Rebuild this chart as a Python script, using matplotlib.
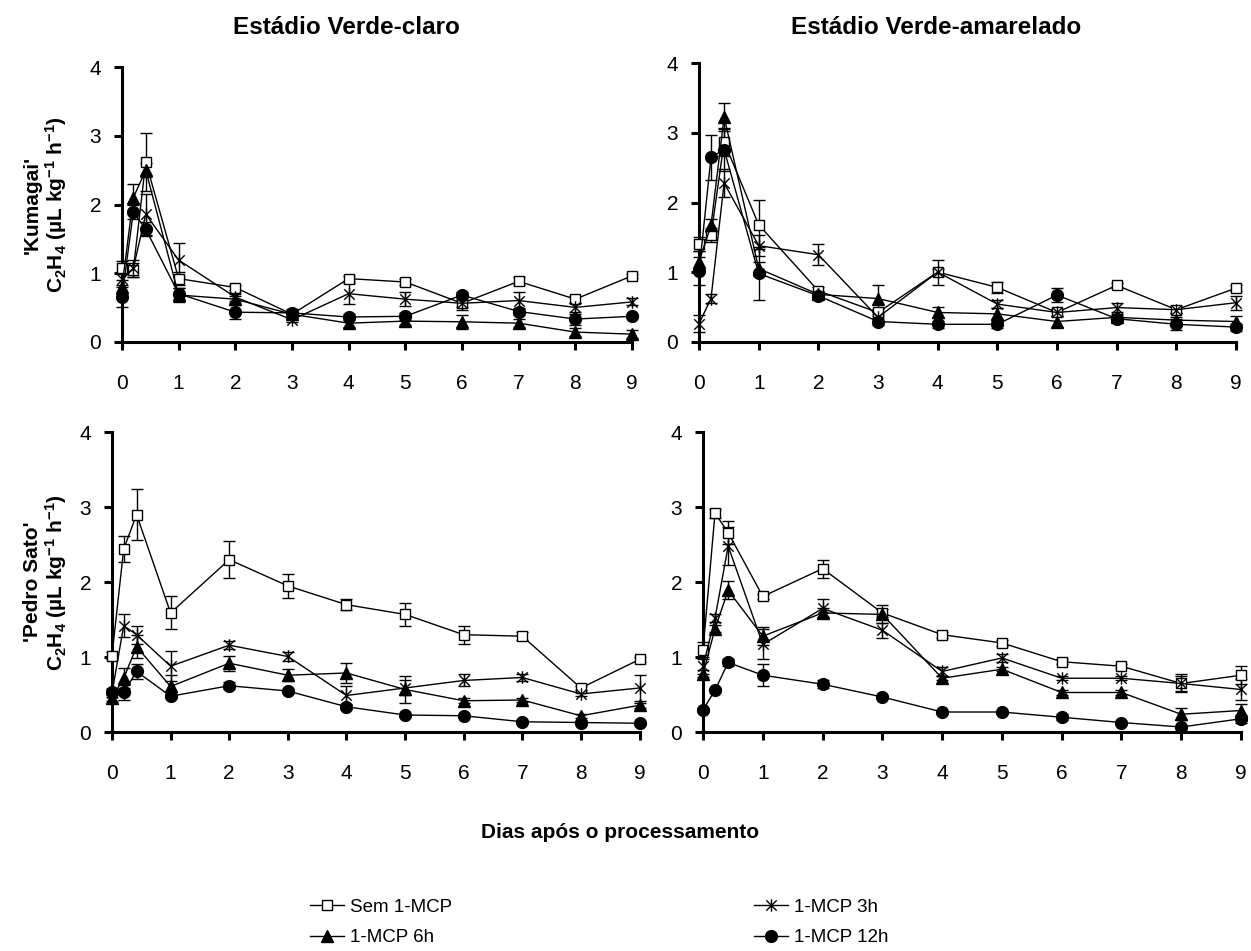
import matplotlib
matplotlib.use("Agg")
import matplotlib.pyplot as plt
from matplotlib.path import Path
from matplotlib.lines import Line2D

plt.rcParams['font.family'] = ['Liberation Sans', 'DejaVu Sans']
plt.rcParams['mathtext.default'] = 'regular'

days = [0, 0.2, 0.42, 1, 2, 3, 4, 5, 6, 7, 8, 9]
x_ticks = [0, 1, 2, 3, 4, 5, 6, 7, 8, 9]
y_ticks = [0, 1, 2, 3, 4]
series_labels = ["Sem 1-MCP", "1-MCP 3h", "1-MCP 6h", "1-MCP 12h"]
col_titles = ["Estádio Verde-claro", "Estádio Verde-amarelado"]
row_labels = ["'Kumagai'", "'Pedro Sato'"]
x_label = "Dias após o processamento"

# Kumagai - Verde-claro
kc_sem = [1.08, 1.05, 2.62, 0.92, 0.79, 0.40, 0.92, 0.87, 0.56, 0.88, 0.62, 0.96]
kc_sem_err = [0.10, 0.10, 0.42, 0.10, 0.04, 0.05, 0.04, 0.04, 0.05, 0.06, 0.05, 0.03]
kc_3h = [0.92, 1.07, 1.86, 1.19, 0.65, 0.32, 0.70, 0.62, 0.56, 0.60, 0.50, 0.58]
kc_3h_err = [0.10, 0.12, 0.30, 0.25, 0.05, 0.04, 0.15, 0.10, 0.10, 0.12, 0.06, 0.05]
kc_6h = [0.80, 2.10, 2.50, 0.68, 0.62, 0.40, 0.27, 0.30, 0.29, 0.27, 0.14, 0.11]
kc_6h_err = [0.10, 0.20, 0.10, 0.10, 0.05, 0.05, 0.06, 0.05, 0.10, 0.06, 0.06, 0.06]
kc_12h = [0.65, 1.89, 1.64, 0.70, 0.43, 0.42, 0.36, 0.37, 0.68, 0.44, 0.33, 0.37]
kc_12h_err = [0.15, 0.10, 0.10, 0.08, 0.10, 0.05, 0.05, 0.05, 0.05, 0.05, 0.08, 0.03]

# Kumagai - Verde-amarelado
ka_sem = [1.40, 1.53, 2.87, 1.68, 0.73, 0.42, 1.00, 0.78, 0.42, 0.81, 0.46, 0.77]
ka_sem_err = [0.10, 0.10, 0.20, 0.35, 0.05, 0.05, 0.05, 0.08, 0.05, 0.04, 0.05, 0.04]
ka_3h = [0.26, 0.62, 2.28, 1.38, 1.25, 0.35, 1.00, 0.54, 0.42, 0.49, 0.46, 0.56]
ka_3h_err = [0.12, 0.06, 0.20, 0.15, 0.15, 0.05, 0.18, 0.06, 0.05, 0.06, 0.05, 0.10]
ka_6h = [1.15, 1.67, 3.23, 1.05, 0.68, 0.62, 0.42, 0.40, 0.29, 0.35, 0.31, 0.29]
ka_6h_err = [0.15, 0.10, 0.20, 0.10, 0.05, 0.20, 0.08, 0.08, 0.08, 0.05, 0.05, 0.08]
ka_12h = [1.01, 2.65, 2.76, 0.98, 0.66, 0.29, 0.25, 0.25, 0.67, 0.33, 0.25, 0.21]
ka_12h_err = [0.20, 0.32, 0.30, 0.38, 0.05, 0.05, 0.05, 0.05, 0.10, 0.05, 0.08, 0.05]

# Pedro Sato - Verde-claro
pc_sem = [1.02, 2.44, 2.90, 1.59, 2.30, 1.95, 1.70, 1.57, 1.30, 1.28, 0.59, 0.97]
pc_sem_err = [0.05, 0.17, 0.34, 0.22, 0.25, 0.16, 0.07, 0.15, 0.12, 0.05, 0.03, 0.03]
pc_3h = [0.52, 1.42, 1.30, 0.88, 1.16, 1.01, 0.49, 0.59, 0.69, 0.73, 0.51, 0.59]
pc_3h_err = [0.05, 0.15, 0.12, 0.20, 0.05, 0.06, 0.13, 0.10, 0.08, 0.05, 0.03, 0.17]
pc_6h = [0.46, 0.72, 1.14, 0.61, 0.92, 0.76, 0.79, 0.57, 0.42, 0.43, 0.22, 0.36]
pc_6h_err = [0.05, 0.13, 0.15, 0.15, 0.10, 0.08, 0.13, 0.18, 0.03, 0.03, 0.03, 0.03]
pc_12h = [0.54, 0.53, 0.81, 0.48, 0.62, 0.55, 0.34, 0.23, 0.22, 0.14, 0.13, 0.12]
pc_12h_err = [0.04, 0.10, 0.10, 0.03, 0.05, 0.03, 0.03, 0.02, 0.02, 0.02, 0.02, 0.02]

# Pedro Sato - Verde-amarelado
pa_sem = [1.10, 2.92, 2.66, 1.81, 2.18, 1.59, 1.30, 1.19, 0.94, 0.88, 0.65, 0.76]
pa_sem_err = [0.10, 0.06, 0.15, 0.03, 0.12, 0.05, 0.04, 0.04, 0.03, 0.03, 0.10, 0.12]
pa_3h = [0.88, 1.52, 2.48, 1.17, 1.65, 1.36, 0.81, 0.99, 0.72, 0.72, 0.65, 0.57]
pa_3h_err = [0.10, 0.05, 0.25, 0.20, 0.12, 0.10, 0.06, 0.05, 0.03, 0.03, 0.12, 0.14]
pa_6h = [0.78, 1.38, 1.89, 1.28, 1.59, 1.57, 0.72, 0.84, 0.53, 0.53, 0.24, 0.29]
pa_6h_err = [0.05, 0.05, 0.12, 0.12, 0.06, 0.12, 0.03, 0.03, 0.03, 0.03, 0.08, 0.08]
pa_12h = [0.30, 0.56, 0.93, 0.76, 0.64, 0.47, 0.27, 0.27, 0.20, 0.13, 0.07, 0.18]
pa_12h_err = [0.03, 0.03, 0.05, 0.15, 0.05, 0.02, 0.02, 0.02, 0.04, 0.02, 0.02, 0.05]

star = Path([(-1, -1), (1, 1), (-1, 1), (1, -1), (0, -1.2), (0, 1.2)],
            [Path.MOVETO, Path.LINETO, Path.MOVETO, Path.LINETO, Path.MOVETO, Path.LINETO])

styles = [
    dict(marker='s', mfc='white', mec='black', ms=7.5, mew=1.0),
    dict(marker=star, mfc='none', mec='black', ms=9, mew=1.0),
    dict(marker='^', mfc='black', mec='black', ms=8.5, mew=1.0),
    dict(marker='o', mfc='black', mec='black', ms=8.5, mew=1.0),
]

panels = [
    ([0.0975, 0.6407, 0.4077, 0.2885], [kc_sem, kc_3h, kc_6h, kc_12h],
     [kc_sem_err, kc_3h_err, kc_6h_err, kc_12h_err], 0, 0),
    ([0.5588, 0.6407, 0.4292, 0.2927], [ka_sem, ka_3h, ka_6h, ka_12h],
     [ka_sem_err, ka_3h_err, ka_6h_err, ka_12h_err], 0, 1),
    ([0.0895, 0.2300, 0.4217, 0.3157], [pc_sem, pc_3h, pc_6h, pc_12h],
     [pc_sem_err, pc_3h_err, pc_6h_err, pc_12h_err], 1, 0),
    ([0.5620, 0.2300, 0.4300, 0.3157], [pa_sem, pa_3h, pa_6h, pa_12h],
     [pa_sem_err, pa_3h_err, pa_6h_err, pa_12h_err], 1, 1),
]

fig = plt.figure(figsize=(12.51, 9.51), dpi=100)

for rect, ys, errs, r, c in panels:
    ax = fig.add_axes(rect)
    for y, e, st in zip(ys, errs, styles):
        ax.errorbar(days, y, yerr=e, color='black', lw=1.0, elinewidth=1.0,
                    capsize=4, capthick=1.0, clip_on=False, zorder=3, **st)
    ax.set_xlim(0, 9)
    ax.set_ylim(0, 4)
    ax.set_xticks(x_ticks)
    ax.set_yticks(y_ticks)
    for s in ['top', 'right']:
        ax.spines[s].set_visible(False)
    for s in ['left', 'bottom']:
        ax.spines[s].set_linewidth(2.2)
    ax.tick_params(axis='both', direction='out', length=6, width=2.2, labelsize=15)
    ax.tick_params(axis='x', pad=17)
    ax.tick_params(axis='y', pad=9)
    if c == 0:
        yc = rect[1] + rect[3] / 2
        fig.text(46 / 1251, yc, row_labels[r] + "\nC$_2$H$_4$ (µL kg$^{-1}$ h$^{-1}$)",
                 rotation=90, ha='center', va='center', fontsize=15,
                 fontweight='bold', linespacing=1.1, multialignment='center')

fig.text(346 / 1251, 1 - 27 / 951, col_titles[0], ha='center', va='center',
         fontsize=17.5, fontweight='bold')
fig.text(936 / 1251, 1 - 27 / 951, col_titles[1], ha='center', va='center',
         fontsize=17.5, fontweight='bold')
fig.text(620 / 1251, 1 - 832 / 951, x_label, ha='center', va='center',
         fontsize=15, fontweight='bold')

handles = []
for st, lab in zip(styles, series_labels):
    handles.append(Line2D([], [], color='black', lw=1.0, label=lab, **st))
order = [0, 2, 1, 3]
fig.legend([handles[i] for i in order], [series_labels[i] for i in order],
           ncol=2, loc='center', bbox_to_anchor=(599 / 1251, 1 - 922.5 / 951),
           frameon=False, fontsize=13.5, handlelength=1.8, handletextpad=0.32,
           columnspacing=16.1, labelspacing=0.7)

fig.savefig("out.png", dpi=100)
